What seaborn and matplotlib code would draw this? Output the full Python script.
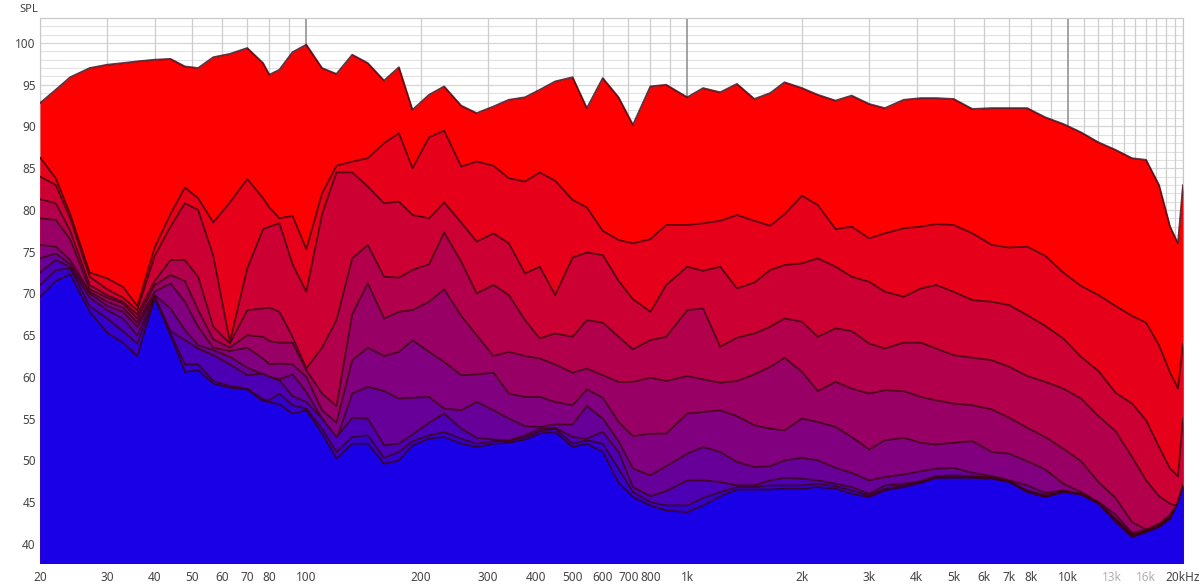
import numpy as np
import pandas as pd
import matplotlib
matplotlib.use("Agg")
import matplotlib.pyplot as plt
import seaborn as sns
from matplotlib.ticker import FixedLocator, FixedFormatter

# frequency points (Hz) shared by all time slices
freq = [20, 22, 24, 27, 30, 33, 36, 40, 44, 48, 52, 57, 63, 70, 77, 80, 85, 92,
        100, 110, 120, 132, 145, 160, 175, 190, 210, 230, 255, 280, 310, 340, 375,
        410, 450, 500, 545, 600, 660, 720, 800, 880, 1000, 1100, 1220, 1350, 1500,
        1650, 1800, 2000, 2200, 2450, 2700, 3000, 3300, 3700, 4100, 4500, 5000,
        5600, 6300, 7000, 7800, 8700, 9700, 10800, 12000, 13300, 14700, 16000,
        17300, 18500, 19400, 20000]

# SPL (dB) per waterfall slice, first slice on top
spl_0 = [92.8, 94.4, 95.9, 97.0, 97.4, 97.6, 97.8, 98.0, 98.1, 97.2, 97.0, 98.3, 98.7, 99.4,
         97.6, 96.2, 96.8, 98.9, 99.8, 97.0, 96.3, 98.6, 97.6, 95.5, 97.1, 92.0, 93.8, 94.8,
         92.5, 91.6, 92.4, 93.2, 93.5, 94.4, 95.4, 95.9, 92.2, 95.8, 93.5, 90.2, 94.8, 95.0,
         93.5, 94.6, 94.1, 95.1, 93.3, 94.0, 95.3, 94.6, 93.8, 93.1, 93.7, 92.7, 92.2, 93.2,
         93.4, 93.4, 93.3, 92.1, 92.2, 92.2, 92.2, 91.1, 90.3, 89.3, 88.1, 87.2, 86.2, 86.0,
         83.0, 78.0, 76.0, 83.0]
spl_1 = [86.3, 83.8, 79.5, 72.5, 71.8, 70.8, 68.5, 75.5, 79.5, 82.7, 81.4, 78.5, 80.9, 83.7,
         81.4, 80.3, 79.0, 79.3, 75.3, 82.0, 85.3, 85.8, 86.2, 88.0, 89.2, 85.0, 88.7, 89.5,
         85.2, 85.8, 85.3, 83.8, 83.4, 84.5, 83.5, 81.2, 80.3, 77.5, 76.4, 76.0, 76.5, 78.2,
         78.2, 78.4, 78.7, 79.4, 78.7, 78.1, 79.5, 81.7, 80.6, 77.7, 78.0, 76.6, 77.2, 77.8,
         78.0, 78.3, 78.2, 77.2, 75.8, 75.5, 75.6, 74.5, 72.5, 70.9, 69.8, 68.5, 67.3, 66.5,
         63.8, 60.5, 58.6, 64.0]
spl_2 = [84.0, 83.0, 79.0, 72.0, 70.5, 69.5, 68.0, 74.5, 78.0, 80.8, 80.0, 74.5, 64.2, 73.0,
         77.7, 78.0, 78.4, 73.5, 70.2, 79.5, 84.5, 84.5, 82.8, 80.8, 81.0, 79.4, 79.0, 80.9,
         78.5, 76.2, 77.2, 76.0, 72.4, 73.2, 69.8, 74.3, 74.9, 74.6, 71.5, 69.3, 67.8, 71.0,
         73.2, 72.7, 73.2, 70.6, 71.3, 72.8, 73.4, 73.6, 74.2, 73.2, 72.0, 71.4, 70.2, 69.6,
         70.6, 71.0, 70.2, 69.2, 69.0, 68.6, 67.4, 66.1, 64.6, 62.4, 60.7, 58.1, 56.8, 54.8,
         51.6, 49.0, 48.1, 55.0]
spl_3 = [81.3, 80.8, 77.5, 71.0, 69.8, 69.0, 67.5, 71.5, 74.0, 74.0, 72.0, 66.0, 64.0, 68.0,
         68.2, 68.3, 67.8, 64.8, 61.0, 63.5, 66.8, 74.2, 75.8, 72.0, 71.9, 72.8, 73.5, 77.3,
         73.8, 70.0, 71.0, 69.8, 66.8, 64.6, 65.2, 64.8, 66.8, 66.5, 64.8, 63.3, 64.4, 64.8,
         68.0, 68.2, 63.6, 64.7, 65.2, 66.0, 67.0, 66.6, 64.8, 65.8, 65.5, 64.0, 63.4, 64.1,
         64.1, 63.4, 62.6, 62.3, 62.0, 61.2, 60.1, 59.4, 58.6, 57.4, 55.3, 53.5, 50.4, 47.6,
         45.7, 44.8, 44.5, 46.0]
spl_4 = [79.0, 78.8, 76.5, 70.5, 69.5, 68.8, 67.0, 71.0, 72.2, 71.5, 68.0, 64.5, 63.5, 65.0,
         64.8, 64.3, 64.1, 64.1, 60.8, 58.0, 56.5, 67.5, 71.2, 67.0, 67.8, 68.0, 69.0, 70.5,
         67.3, 65.0, 62.5, 63.0, 62.5, 62.2, 61.5, 60.5, 61.0, 60.2, 59.4, 59.4, 59.9, 59.5,
         60.1, 59.7, 59.3, 59.5, 60.3, 61.2, 62.3, 60.6, 58.3, 59.4, 58.6, 58.0, 58.4, 58.3,
         57.6, 57.2, 56.8, 56.6, 56.1, 55.1, 53.9, 52.8, 51.4, 49.9, 47.4, 45.5, 42.6, 41.7,
         42.0, 43.0, 44.5, 46.0]
spl_5 = [75.8, 75.6, 74.0, 70.2, 69.0, 68.3, 66.5, 70.2, 71.2, 69.0, 66.0, 63.5, 63.1, 63.5,
         62.2, 61.5, 61.6, 61.5, 60.0, 56.0, 54.5, 62.0, 63.5, 62.5, 63.0, 64.4, 63.0, 61.8,
         60.2, 60.3, 60.5, 58.0, 57.6, 57.6, 57.0, 56.6, 58.5, 57.5, 54.6, 52.9, 53.2, 53.2,
         55.6, 55.8, 56.0, 55.3, 54.2, 53.8, 53.6, 55.0, 54.6, 54.0, 52.8, 51.3, 52.4, 52.7,
         52.1, 51.9, 52.1, 52.3, 51.0, 50.8, 49.9, 48.9, 47.2, 46.2, 45.0, 43.5, 41.3, 41.7,
         42.4, 43.5, 44.8, 46.0]
spl_6 = [74.2, 74.8, 73.5, 70.0, 68.5, 67.8, 66.0, 69.8, 68.2, 65.6, 63.8, 63.2, 62.4, 61.1,
         60.3, 60.0, 59.7, 60.3, 58.2, 55.0, 52.5, 58.0, 58.8, 58.3, 57.4, 57.5, 57.6, 56.2,
         56.0, 57.0, 56.0, 55.0, 54.1, 54.0, 54.3, 54.3, 56.5, 55.0, 52.3, 49.0, 48.2, 49.3,
         50.8, 51.6, 51.0, 49.8, 49.2, 49.3, 50.0, 50.3, 50.0, 49.1, 48.5, 47.6, 48.0, 48.3,
         48.7, 49.0, 49.1, 48.5, 48.1, 47.6, 47.0, 46.1, 46.4, 46.0, 44.9, 43.0, 41.1, 41.6,
         42.2, 43.2, 44.9, 47.0]
spl_7 = [72.5, 74.0, 73.2, 69.5, 68.0, 67.0, 65.0, 69.6, 65.5, 64.4, 63.4, 62.6, 61.5, 60.2,
         60.4, 60.0, 59.6, 57.7, 57.0, 55.0, 52.8, 55.1, 55.0, 51.8, 52.0, 53.1, 54.5, 55.6,
         53.8, 52.7, 52.5, 52.4, 53.0, 53.8, 53.9, 52.8, 52.6, 53.4, 51.0, 46.8, 45.7, 46.3,
         47.6, 47.6, 47.4, 47.0, 47.0, 47.6, 47.9, 47.8, 47.6, 47.2, 46.8, 46.0, 47.0, 47.2,
         47.5, 48.1, 48.2, 48.1, 48.0, 47.5, 46.4, 45.8, 46.3, 45.9, 44.9, 42.9, 41.0, 41.5,
         42.1, 43.1, 44.9, 47.0]
spl_8 = [71.0, 72.8, 73.0, 68.5, 67.0, 65.5, 64.0, 69.5, 65.2, 61.5, 61.5, 59.5, 58.9, 58.6,
         57.3, 57.2, 58.0, 56.6, 56.2, 53.8, 51.0, 52.8, 53.0, 50.3, 51.0, 52.3, 53.0, 53.4,
         52.6, 52.0, 52.3, 52.3, 52.8, 53.5, 53.8, 52.0, 52.4, 52.0, 49.0, 46.2, 45.0, 44.6,
         44.6, 45.5, 46.2, 46.8, 46.8, 47.0, 47.0, 47.0, 47.2, 46.9, 46.4, 45.8, 46.6, 47.0,
         47.4, 48.0, 48.0, 48.0, 47.9, 47.5, 46.3, 45.7, 46.2, 45.9, 44.9, 42.8, 40.9, 41.5,
         42.1, 43.0, 45.0, 47.0]
spl_9 = [69.6, 71.5, 72.3, 67.8, 65.3, 64.1, 62.5, 69.4, 65.0, 60.6, 60.8, 59.2, 58.7, 58.5,
         57.1, 57.0, 56.7, 55.6, 56.0, 53.2, 50.2, 52.0, 52.0, 49.6, 50.0, 51.8, 52.6, 52.8,
         52.0, 51.6, 52.0, 52.1, 52.5, 53.2, 53.4, 51.6, 52.0, 51.0, 47.3, 45.6, 44.6, 44.0,
         43.8, 44.6, 45.7, 46.5, 46.5, 46.5, 46.6, 46.6, 46.8, 46.6, 46.0, 45.6, 46.4, 46.8,
         47.3, 47.9, 47.9, 47.9, 47.8, 47.4, 46.2, 45.6, 46.2, 45.9, 44.8, 42.6, 40.8, 41.4,
         42.0, 43.0, 45.0, 47.0]

slices = [spl_0, spl_1, spl_2, spl_3, spl_4, spl_5, spl_6, spl_7, spl_8, spl_9]

grid_freqs = [20, 30, 40, 50, 60, 70, 80, 90, 100, 200, 300, 400, 500, 600, 700, 800, 900,
              1000, 2000, 3000, 4000, 5000, 6000, 7000, 8000, 9000, 10000, 11000, 12000,
              13000, 14000, 15000, 16000, 17000, 18000, 19000, 20000]
x_ticks = [20, 30, 40, 50, 60, 70, 80, 100, 200, 300, 400, 500, 600, 700, 800, 1000,
           2000, 3000, 4000, 5000, 6000, 7000, 8000, 10000, 13000, 16000, 20000]
x_labels = ['20', '30', '40', '50', '60', '70', '80', '100', '200', '300', '400', '500',
            '600', '700', '800', '1k', '2k', '3k', '4k', '5k', '6k', '7k', '8k', '10k',
            '13k', '16k', '20kHz']
y_ticks = [40, 45, 50, 55, 60, 65, 70, 75, 80, 85, 90, 95, 100]

sns.set_style("white")
plt.rcParams['font.family'] = ['Noto Sans', 'DejaVu Sans']

fig = plt.figure(figsize=(12.04, 5.88), dpi=100)
ax = fig.add_axes([40 / 1204, 25 / 588, 1143 / 1204, 545 / 588])

# background grid: 1 dB horizontals, decade-style verticals
ax.yaxis.set_minor_locator(FixedLocator(list(range(38, 104))))
ax.grid(True, which='minor', axis='y', color='#e2e2e2', lw=0.8, zorder=0)
ax.grid(True, which='major', axis='y', color='#d6d6d6', lw=0.9, zorder=0)
for g in grid_freqs:
    major = g in (100, 1000, 10000)
    ax.axvline(g, color='#8a8a8a' if major else '#cdcdcd', lw=1.1 if major else 0.9, zorder=1)

# red (first slice) -> blue (last slice)
n = len(slices)
colors = [(r / 255, 0, b / 255) for r, b in zip(np.linspace(255, 26, n), np.linspace(0, 230, n))]
edge = (0.22, 0.0, 0.06)

for i, vals in enumerate(slices):
    ax.fill_between(freq, vals, 30, color=colors[i], linewidth=0, zorder=3 + 2 * i)
    df = pd.DataFrame({'f': freq, 'spl': vals})
    sns.lineplot(data=df, x='f', y='spl', ax=ax, color=edge, lw=1.3, alpha=0.8,
                 sort=False, estimator=None, zorder=4 + 2 * i,
                 solid_joinstyle='round', solid_capstyle='round')

ax.set_xscale('log')
ax.set_xlim(20, 20000)
ax.set_ylim(37.7, 103)

ax.xaxis.set_major_locator(FixedLocator(x_ticks))
ax.xaxis.set_major_formatter(FixedFormatter(x_labels))
ax.xaxis.set_minor_locator(FixedLocator([]))
ax.yaxis.set_major_locator(FixedLocator(y_ticks))
ax.set_axisbelow(True)

ax.tick_params(axis='both', which='both', length=0, labelsize=8.5, colors='#444444')
ax.tick_params(axis='x', pad=6)
ax.tick_params(axis='y', pad=3)
for lab in ax.get_xticklabels():
    if lab.get_text() in ('13k', '16k'):
        lab.set_color('#b0b0b0')

ax.set_xlabel('')
ax.set_ylabel('')
for s in ax.spines.values():
    s.set_color('#c8c8c8')
    s.set_linewidth(0.8)

fig.text(19 / 1204, 1 - 9 / 588, 'SPL', fontsize=8, fontweight='bold', color='#444444',
         va='center', ha='left')

fig.savefig('out.png', dpi=100)
